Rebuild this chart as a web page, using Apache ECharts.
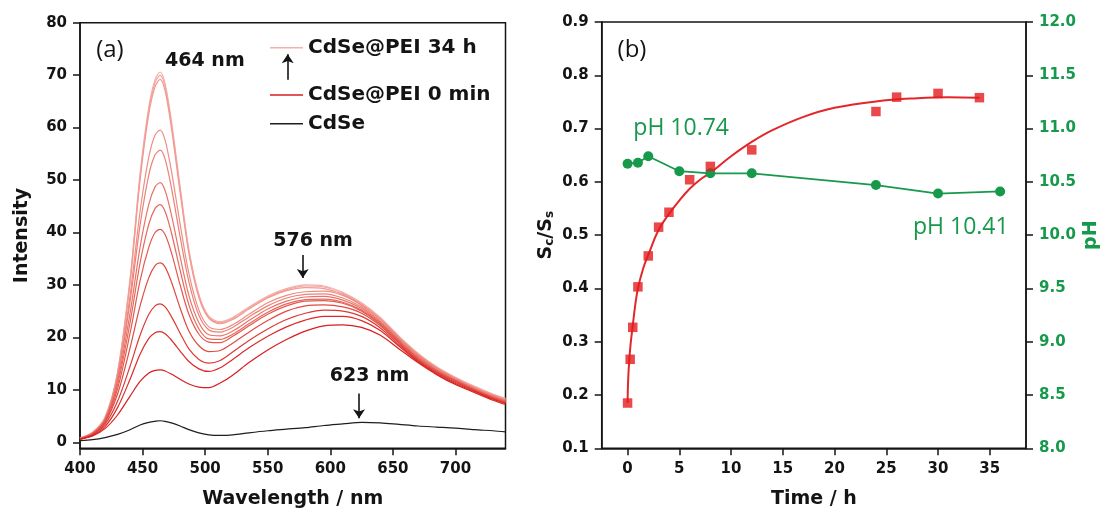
<!DOCTYPE html>
<html>
<head>
<meta charset="utf-8">
<title>CdSe@PEI emission and S_c/S_s kinetics</title>
<script src="https://cdn.jsdelivr.net/npm/echarts@6.0.0/dist/echarts.min.js"></script>
<style>
  html, body { margin: 0; padding: 0; background: #ffffff; }
  #chart { width: 1104px; height: 508px; }
</style>
</head>
<body>
<div id="chart"></div>
<script>
// ---------- Panel (a): emission spectra ----------
const wavelength = [400, 410, 420, 430, 440, 448, 455, 460, 464, 468, 473, 480, 487, 495, 503, 512,
                    522, 535, 550, 565, 580, 595, 610, 625, 640, 655, 670, 685, 700, 715, 730, 740];

// CdSe@PEI spectra, from 0 min (pei0) up to 34 h (pei11)
const pei0  = [0.6, 1.2, 2.6, 5.2, 8.8, 11.6, 13.2, 13.7, 13.8, 13.6, 13.0, 12.0, 11.1, 10.5, 10.4, 11.3, 12.8, 15.2, 17.6, 19.6, 21.2, 22.2, 22.4, 21.9, 20.4, 17.8, 15.2, 12.9, 11.0, 9.5, 8.0, 7.2];
const pei1  = [0.6, 1.3, 3.0, 6.6, 12.0, 16.8, 19.8, 20.9, 21.1, 20.7, 19.5, 17.4, 15.4, 14.0, 13.5, 14.2, 15.8, 18.0, 20.2, 22.0, 23.3, 24.0, 24.0, 23.2, 21.3, 18.3, 15.4, 13.1, 11.2, 9.7, 8.2, 7.4];
const pei2  = [0.6, 1.4, 3.4, 7.8, 14.5, 20.4, 24.4, 26.0, 26.4, 25.8, 24.0, 20.8, 17.8, 15.8, 15.1, 15.6, 17.2, 19.4, 21.6, 23.4, 24.6, 25.2, 25.0, 24.0, 21.8, 18.6, 15.6, 13.3, 11.4, 9.8, 8.3, 7.5];
const pei3  = [0.7, 1.5, 3.8, 9.2, 18.0, 26.0, 31.4, 33.7, 34.2, 33.4, 30.6, 25.6, 21.2, 18.4, 17.3, 17.5, 18.9, 21.0, 23.2, 25.0, 26.0, 26.2, 25.8, 24.6, 22.2, 18.9, 15.8, 13.4, 11.6, 9.9, 8.4, 7.6];
const pei4  = [0.7, 1.6, 4.0, 10.2, 20.8, 30.8, 37.2, 40.0, 40.6, 39.6, 36.2, 30.0, 24.4, 20.6, 19.1, 19.0, 20.2, 22.2, 24.4, 26.0, 26.9, 27.0, 26.5, 25.0, 22.5, 19.1, 16.0, 13.6, 11.7, 10.0, 8.5, 7.7];
const pei5  = [0.7, 1.6, 4.2, 11.0, 22.8, 34.2, 41.6, 44.6, 45.3, 44.0, 40.0, 32.8, 26.2, 21.6, 19.7, 19.6, 20.6, 22.6, 24.8, 26.4, 27.2, 27.3, 26.7, 25.2, 22.7, 19.3, 16.1, 13.7, 11.8, 10.1, 8.6, 7.8];
const pei6  = [0.7, 1.7, 4.3, 11.6, 24.6, 37.2, 45.4, 48.7, 49.5, 48.0, 43.4, 35.4, 28.0, 22.8, 20.5, 20.3, 21.2, 23.2, 25.4, 26.9, 27.7, 27.8, 27.1, 25.5, 22.9, 19.5, 16.3, 13.8, 11.9, 10.2, 8.7, 7.9];
const pei7  = [0.7, 1.7, 4.4, 12.2, 26.8, 41.4, 51.0, 54.8, 55.7, 54.0, 48.6, 39.2, 30.6, 24.2, 21.4, 21.0, 21.9, 23.9, 26.0, 27.5, 28.2, 28.3, 27.5, 25.8, 23.1, 19.7, 16.5, 14.0, 12.0, 10.3, 8.8, 8.0];
const pei8  = [0.7, 1.8, 4.5, 12.6, 28.0, 44.0, 54.4, 58.6, 59.5, 57.6, 51.8, 41.6, 32.2, 25.2, 22.0, 21.5, 22.4, 24.4, 26.6, 28.0, 28.7, 28.8, 28.0, 26.1, 23.4, 19.9, 16.7, 14.1, 12.1, 10.4, 8.9, 8.1];
const pei9  = [0.8, 1.8, 4.6, 13.0, 30.4, 50.0, 62.6, 67.8, 69.2, 67.0, 60.0, 47.6, 36.0, 27.6, 23.6, 22.6, 23.4, 25.4, 27.5, 28.9, 29.5, 29.3, 28.2, 26.2, 23.5, 20.0, 16.8, 14.2, 12.2, 10.5, 9.0, 8.2];
const pei10 = [0.8, 1.8, 4.7, 13.2, 30.8, 50.6, 63.4, 68.6, 70.0, 67.8, 60.8, 48.2, 36.4, 27.9, 23.8, 22.8, 23.6, 25.6, 27.7, 29.1, 29.8, 29.6, 28.4, 26.4, 23.6, 20.1, 16.9, 14.3, 12.3, 10.6, 9.1, 8.3];
const pei11 = [0.8, 1.9, 4.8, 13.4, 31.2, 51.2, 64.0, 69.2, 70.6, 68.4, 61.4, 48.8, 36.8, 28.2, 24.0, 23.0, 23.8, 25.8, 27.9, 29.3, 30.0, 29.8, 28.6, 26.6, 23.8, 20.2, 17.0, 14.4, 12.4, 10.7, 9.2, 8.4];
// bare CdSe
const cdse  = [0.3, 0.5, 0.9, 1.5, 2.4, 3.3, 3.8, 4.0, 4.1, 4.0, 3.7, 3.1, 2.4, 1.8, 1.4, 1.3, 1.4, 1.8, 2.2, 2.5, 2.8, 3.2, 3.5, 3.8, 3.7, 3.4, 3.1, 2.9, 2.7, 2.4, 2.2, 2.0];

const peiSpectra = [pei0, pei1, pei2, pei3, pei4, pei5, pei6, pei7, pei8, pei9, pei10, pei11];
const peiColors = ['#d81e1e', '#db2a28', '#de3a34', '#e04a42', '#e3594f', '#e6675c',
                   '#e87469', '#eb8177', '#ee8e85', '#f09a92', '#f2a59e', '#f4b0a9'];
const peiNames = ['CdSe@PEI 0 min', 'CdSe@PEI 2', 'CdSe@PEI 3', 'CdSe@PEI 4', 'CdSe@PEI 5', 'CdSe@PEI 6',
                  'CdSe@PEI 7', 'CdSe@PEI 8', 'CdSe@PEI 9', 'CdSe@PEI 10', 'CdSe@PEI 11', 'CdSe@PEI 34 h'];

const wlTicks = [400, 450, 500, 550, 600, 650, 700];
const intensityTicks = [0, 10, 20, 30, 40, 50, 60, 70, 80];

// ---------- Panel (b): S_c/S_s and pH versus time ----------
const timeH   = [0, 0.25, 0.5, 1, 2, 3, 4, 6, 8, 12, 24, 26, 30, 34];
const scRatio = [0.185, 0.267, 0.327, 0.403, 0.461, 0.515, 0.543, 0.604, 0.629, 0.660, 0.732, 0.759, 0.766, 0.758];

const fitTime  = [0, 0.05, 0.15, 0.3, 0.5, 0.75, 1, 1.5, 2, 3, 4, 5, 6, 7, 8, 10, 12, 14, 17, 20, 24, 28, 31, 34];
const fitRatio = [0.185, 0.225, 0.262, 0.297, 0.330, 0.370, 0.400, 0.437, 0.463, 0.510, 0.540, 0.565, 0.587, 0.604, 0.617, 0.648, 0.675, 0.697, 0.722, 0.739, 0.751, 0.757, 0.759, 0.758];

const phTime  = [0, 1, 2, 5, 8, 12, 24, 30, 36];
const phValue = [10.67, 10.68, 10.74, 10.60, 10.58, 10.58, 10.47, 10.39, 10.41];

const timeTicks  = [0, 5, 10, 15, 20, 25, 30, 35];
const ratioTicks = [0.1, 0.2, 0.3, 0.4, 0.5, 0.6, 0.7, 0.8, 0.9];
const phTicks    = [8.0, 8.5, 9.0, 9.5, 10.0, 10.5, 11.0, 11.5, 12.0];

// ---------- styling ----------
const FONT = 'DejaVu Sans';
const LABEL_FONT = 'Open Sans';
const INK = '#141414';
const GREEN = '#16994b';
const RED = '#e41c1e';
const axisLine = { show: true, onZero: false, lineStyle: { color: INK, width: 1.5 } };

function pairs(xs, ys) { return xs.map((x, i) => [x, ys[i]]); }

function tickLabel(values, color, fmt) {
  return {
    customValues: values, margin: 13, color: color,
    fontFamily: FONT, fontWeight: 'bold', fontSize: 15,
    formatter: fmt
  };
}
function axisTick(values, color) {
  return { show: true, inside: false, length: 7, customValues: values,
           lineStyle: { color: color || INK, width: 1.5 } };
}
const titleStyle = { fontFamily: FONT, fontWeight: 'bold', fontSize: 19, color: INK };

const series = [];

// light spectra first so the darker, earlier ones sit on top
for (let i = peiSpectra.length - 1; i >= 0; i--) {
  series.push({
    type: 'line', name: peiNames[i], xAxisIndex: 0, yAxisIndex: 0,
    data: pairs(wavelength, peiSpectra[i]),
    symbol: 'none', smooth: 0.3, silent: true,
    lineStyle: { width: 1.2, color: peiColors[i] },
    itemStyle: { color: peiColors[i] }
  });
}

function textMark(name, coord, style) {
  return {
    name: name, coord: coord, symbol: 'circle', symbolSize: 1,
    itemStyle: { color: 'rgba(0,0,0,0)' },
    label: Object.assign({ show: true, position: 'inside', formatter: '{b}' }, style)
  };
}
const boldNote = { fontFamily: FONT, fontWeight: 'bold', fontSize: 19, color: INK };
const panelTag = { fontFamily: LABEL_FONT, fontWeight: 'normal', fontSize: 24, color: INK };
const greenNote = { fontFamily: LABEL_FONT, fontWeight: 'normal', fontSize: 23, color: GREEN };

series.push({
  type: 'line', name: 'CdSe', xAxisIndex: 0, yAxisIndex: 0,
  data: pairs(wavelength, cdse),
  symbol: 'none', smooth: 0.3, silent: true,
  lineStyle: { width: 1.2, color: '#1e1e1e' },
  itemStyle: { color: '#1e1e1e' },
  markLine: {
    silent: true, symbol: ['none', 'arrow'], symbolSize: 9, animation: false,
    label: { show: false },
    lineStyle: { color: INK, width: 1.6, type: 'solid' },
    emphasis: { disabled: true },
    data: [
      [{ coord: [578, 35.7] }, { coord: [578, 31.3] }],
      [{ coord: [623, 9.3] }, { coord: [623, 4.6] }],
      [{ coord: [566, 69.1] }, { coord: [566, 74.0] }]
    ]
  },
  markPoint: {
    silent: true, animation: false,
    data: [
      textMark('464 nm', [499.8, 72.6], boldNote),
      textMark('576 nm', [586.2, 38.4], boldNote),
      textMark('623 nm', [631.4, 12.6], boldNote),
      textMark('(a)', [423.9, 74.8], panelTag)
    ]
  }
});

series.push({
  type: 'line', name: 'fit', xAxisIndex: 1, yAxisIndex: 1,
  data: pairs(fitTime, fitRatio),
  symbol: 'none', smooth: 0.4, silent: true, z: 2,
  lineStyle: { width: 2, color: '#e3262a' }
});
series.push({
  type: 'scatter', name: 'Sc/Ss', xAxisIndex: 1, yAxisIndex: 1,
  data: pairs(timeH, scRatio),
  symbol: 'rect', symbolSize: 9.5, silent: true, z: 4,
  itemStyle: { color: RED },
  markPoint: {
    silent: true, animation: false,
    data: [ textMark('(b)', [0.43, 0.847], panelTag) ]
  }
});
series.push({
  type: 'line', name: 'pH', xAxisIndex: 1, yAxisIndex: 2,
  data: pairs(phTime, phValue),
  symbol: 'circle', symbolSize: 10, silent: true, z: 3,
  lineStyle: { width: 1.8, color: GREEN },
  itemStyle: { color: GREEN },
  markPoint: {
    silent: true, animation: false,
    data: [
      textMark('pH 10.74', [5.18, 11.0], greenNote),
      textMark('pH 10.41', [32.2, 10.075], greenNote)
    ]
  }
});

// legend keys are plain line strokes
const legendBase = {
  orient: 'vertical', left: 270, padding: 0, itemWidth: 33, itemHeight: 1.6,
  icon: 'rect', selectedMode: false,
  textStyle: { fontFamily: FONT, fontWeight: 'bold', fontSize: 20, color: INK, lineHeight: 22 }
};

const gridBase = {
  show: true, borderColor: INK, borderWidth: 1.5, backgroundColor: 'transparent',
  containLabel: false, outerBoundsMode: 'none'
};

const option = {
  animation: false,
  backgroundColor: '#ffffff',
  grid: [
    Object.assign({}, gridBase, { left: 80, top: 22.7, width: 425.5, height: 425.6 }),
    Object.assign({}, gridBase, { left: 601.7, top: 22, width: 424.3, height: 426.3 })
  ],
  legend: [
    Object.assign({}, legendBase, { top: 36.7, data: ['CdSe@PEI 34 h'] }),
    Object.assign({}, legendBase, { top: 84, itemGap: 6.7, data: ['CdSe@PEI 0 min', 'CdSe'] })
  ],
  xAxis: [
    {
      gridIndex: 0, type: 'value', min: 400, max: 740,
      name: 'Wavelength / nm', nameLocation: 'middle', nameGap: 41, nameTextStyle: titleStyle,
      axisLine: axisLine, axisTick: axisTick(wlTicks),
      axisLabel: tickLabel(wlTicks, INK, v => String(v)),
      splitLine: { show: false }
    },
    {
      gridIndex: 1, type: 'value', min: -2.5, max: 38.5,
      name: 'Time / h', nameLocation: 'middle', nameGap: 41, nameTextStyle: titleStyle,
      axisLine: axisLine, axisTick: axisTick(timeTicks),
      axisLabel: tickLabel(timeTicks, INK, v => String(v)),
      splitLine: { show: false }
    }
  ],
  yAxis: [
    {
      gridIndex: 0, type: 'value', min: -1.15, max: 80,
      name: 'Intensity', nameLocation: 'middle', nameGap: 48, nameTextStyle: titleStyle,
      axisLine: axisLine, axisTick: axisTick(intensityTicks),
      axisLabel: tickLabel(intensityTicks, INK, v => String(v)),
      splitLine: { show: false }
    },
    {
      gridIndex: 1, type: 'value', min: 0.1, max: 0.9, position: 'left',
      name: '{m|S}{s|c}{m|/S}{s|s}', nameLocation: 'middle', nameGap: 44,
      nameTextStyle: {
        color: INK,
        rich: {
          m: { fontFamily: FONT, fontWeight: 'bold', fontSize: 19, lineHeight: 20, padding: [0, 0, 3, 0], verticalAlign: 'top', color: INK },
          s: { fontFamily: FONT, fontWeight: 'bold', fontSize: 12, lineHeight: 12, verticalAlign: 'bottom', color: INK }
        }
      },
      axisLine: axisLine, axisTick: axisTick(ratioTicks),
      axisLabel: tickLabel(ratioTicks, INK, v => v.toFixed(1)),
      splitLine: { show: false }
    },
    {
      gridIndex: 1, type: 'value', min: 8, max: 12, position: 'right',
      name: 'pH', nameLocation: 'middle', nameGap: 56,
      nameTextStyle: { fontFamily: FONT, fontWeight: 'bold', fontSize: 19, color: GREEN },
      axisLine: axisLine, axisTick: axisTick(phTicks),
      axisLabel: tickLabel(phTicks, GREEN, v => v.toFixed(1)),
      splitLine: { show: false }
    }
  ],
  series: series
};

const chart = echarts.init(document.getElementById('chart'), null, { renderer: 'canvas' });
chart.setOption(option);
</script>
</body>
</html>
